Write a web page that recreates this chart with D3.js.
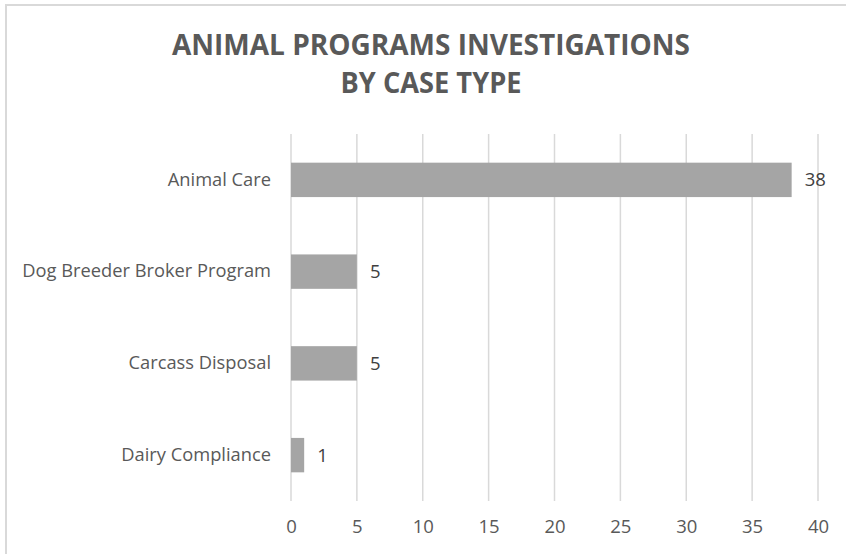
<!DOCTYPE html>
<html>
<head>
<meta charset="utf-8">
<script src="https://cdn.jsdelivr.net/npm/d3@7"></script>
<style>
  body { margin: 0; background: #fff; }
  text { font-family: "Open Sans", sans-serif; }
</style>
</head>
<body>
<svg></svg>
<script>
const categories = ["Animal Care", "Dog Breeder Broker Program", "Carcass Disposal", "Dairy Compliance"];
const counts = [38, 5, 5, 1];
const xTicks = [0, 5, 10, 15, 20, 25, 30, 35, 40];
const titleLines = ["ANIMAL PROGRAMS INVESTIGATIONS", "BY CASE TYPE"];

const size = { w: 846, h: 554 };
const margin = { t: 134, r: 28, b: 53, l: 291 };

const svg = d3.select("svg").attr("width", size.w).attr("height", size.h);

// chart frame (only top and left edges are visible in the crop)
svg.append("path")
	.attr("d", `M6,${size.h} V5 H${size.w}`)
	.attr("fill", "none")
	.attr("stroke", "#d9d9d9")
	.attr("stroke-width", 2);

const title = svg.append("g");
title.selectAll("text")
	.data(titleLines)
	.join("text")
	.attr("x", 431)
	.attr("y", (d, i) => 55 + i * 38)
	.attr("text-anchor", "middle")
	.attr("font-size", 28)
	.attr("font-weight", "bold")
	.attr("fill", "#595959")
	.attr("textLength", (d, i) => (i === 0 ? 518 : 181))
	.attr("lengthAdjust", "spacingAndGlyphs")
	.text((d) => d);

let x = d3.scaleLinear()
	.domain([0, 40])
	.range([margin.l, size.w - margin.r]);

let y = d3.scaleBand()
	.domain(categories)
	.range([margin.t, size.h - margin.b])
	.paddingInner(0.625)
	.paddingOuter(0.3125);

// vertical gridlines
svg.append("g")
	.selectAll("line")
	.data(xTicks)
	.join("line")
	.attr("x1", (d) => x(d))
	.attr("x2", (d) => x(d))
	.attr("y1", margin.t)
	.attr("y2", size.h - margin.b)
	.attr("stroke", "#d9d9d9")
	.attr("stroke-width", 1.5);

// x axis labels
let xAxis = svg.append("g")
	.attr("transform", `translate(0,${size.h - margin.b})`)
	.call(d3.axisBottom(x).tickValues(xTicks).tickSize(0).tickPadding(19));
xAxis.select(".domain").remove();
xAxis.selectAll("text")
	.attr("font-family", "Open Sans, sans-serif")
	.attr("font-size", 18.5)
	.attr("fill", "#595959");

// y axis labels
let yAxis = svg.append("g")
	.attr("transform", `translate(${margin.l},0)`)
	.call(d3.axisLeft(y).tickSize(0).tickPadding(20));
yAxis.select(".domain").remove();
yAxis.selectAll("text")
	.attr("font-family", "Open Sans, sans-serif")
	.attr("font-size", 18.3)
	.attr("fill", "#595959");

const rows = categories.map((c, i) => ({ cat: c, val: counts[i] }));

svg.append("g")
	.selectAll("rect")
	.data(rows)
	.join("rect")
	.attr("x", x(0))
	.attr("y", (d) => y(d.cat))
	.attr("width", (d) => x(d.val) - x(0))
	.attr("height", y.bandwidth())
	.attr("fill", "#a5a5a5");

svg.append("g")
	.selectAll("text")
	.data(rows)
	.join("text")
	.attr("x", (d) => x(d.val) + 13)
	.attr("y", (d) => y(d.cat) + y.bandwidth() / 2)
	.attr("dy", "0.35em")
	.attr("font-size", 18.5)
	.attr("fill", "#404040")
	.text((d) => d.val);
</script>
</body>
</html>
